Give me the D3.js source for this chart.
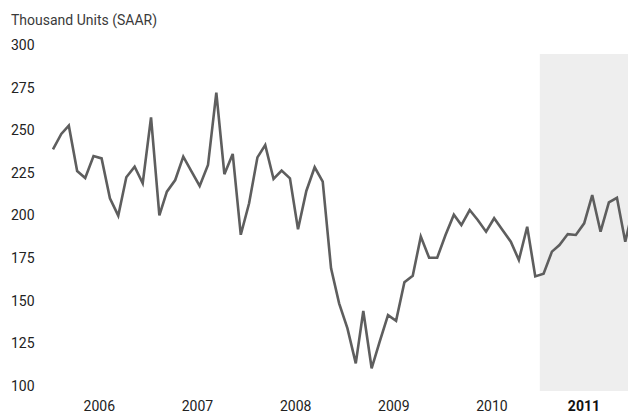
<!DOCTYPE html>
<html>
<head>
<meta charset="utf-8">
<script src="https://cdn.jsdelivr.net/npm/d3@7"></script>
<style>
  body { margin: 0; background: #fff; }
  svg { display: block; font-family: Roboto, "Noto Sans", sans-serif; }
</style>
</head>
<body>
<svg width="628" height="414"></svg>
<script>
// monthly values, Jan 2006 onwards (thousand units, SAAR)
var startYear = 2006;
var values = [
  238.8, 247.8, 252.7, 226.1, 222.0, 234.9, 233.5, 210.1, 199.9, 222.4, 228.6, 218.9,
  257.6, 200.1, 214.0, 220.8, 234.5, 225.7, 217.3, 229.6, 272.0, 224.2, 236.1, 188.7,
  207.2, 234.1, 241.3, 221.4, 226.3, 221.8, 191.9, 214.4, 228.3, 219.8, 169.0, 148.5,
  133.8, 113.3, 144.0, 110.4, 126.0, 141.6, 138.3, 160.8, 164.7, 187.6, 175.2, 175.2,
  188.6, 200.5, 194.4, 203.2, 197.4, 190.5, 198.4, 191.5, 184.6, 173.9, 193.4, 164.3,
  165.9, 178.8, 182.7, 189.1, 188.6, 195.4, 212.0, 190.5, 207.7, 210.4, 184.6, 205.0
];
var yearLabels = ["2006", "2007", "2008", "2009", "2010", "2011"];
var yTicks = [100, 125, 150, 175, 200, 225, 250, 275, 300];
var shadeFrom = 2011;

var width = 628;
var svg = d3.select("svg");

var data = values.map(function (v, i) {
  return { date: new Date(startYear, i, 15), value: v };
});

var x = d3.scaleTime()
  .domain([new Date(2006, 0, 1), new Date(2012, 0, 1)])
  .range([49.2, 637.9]);

var y = d3.scaleLinear()
  .domain([100, 300])
  .range([386, 45]);

// shaded band for the latest year
var shadeX = x(new Date(shadeFrom, 0, 1));
svg.append("rect")
  .attr("x", shadeX)
  .attr("y", 54)
  .attr("width", width - shadeX)
  .attr("height", 337)
  .attr("fill", "#eeeeee");

// title
svg.append("text")
  .attr("x", 11)
  .attr("y", 25)
  .attr("font-size", 14)
  .attr("fill", "#3a3a3a")
  .text("Thousand Units (SAAR)");

// y tick labels
svg.append("g")
  .selectAll("text")
  .data(yTicks)
  .join("text")
  .attr("x", 11)
  .attr("y", function (d) { return y(d); })
  .attr("dy", "0.35em")
  .attr("font-size", 14)
  .attr("fill", "#222")
  .text(function (d) { return d; });

// year labels
svg.append("g")
  .selectAll("text")
  .data(yearLabels)
  .join("text")
  .attr("x", function (d) {
    if (+d === shadeFrom) return (shadeX + width) / 2;
    return x(new Date(+d, 6, 1)) + 1.5;
  })
  .attr("y", 411)
  .attr("text-anchor", "middle")
  .attr("font-size", 14)
  .attr("font-weight", function (d) { return +d === shadeFrom ? "bold" : "normal"; })
  .attr("fill", function (d) { return +d === shadeFrom ? "#111" : "#222"; })
  .text(function (d) { return d; });

var line = d3.line()
  .x(function (d) { return x(d.date); })
  .y(function (d) { return y(d.value); });

svg.append("path")
  .datum(data)
  .attr("d", line)
  .attr("fill", "none")
  .attr("stroke", "#5e5e5e")
  .attr("stroke-width", 2.6)
  .attr("stroke-linejoin", "miter");
</script>
</body>
</html>
